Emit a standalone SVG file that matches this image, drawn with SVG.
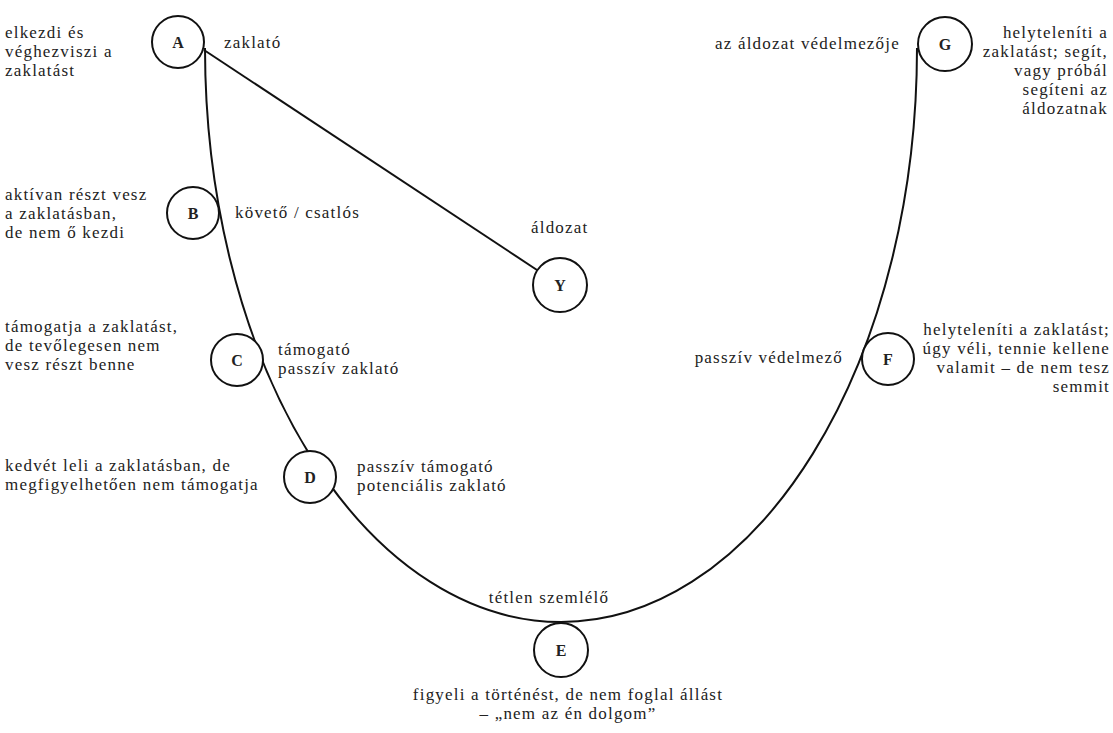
<svg xmlns="http://www.w3.org/2000/svg" width="1113" height="733" viewBox="0 0 1113 733">
<style>
.n circle{fill:#fff;stroke:#111;stroke-width:2}
.n text{font-weight:bold;text-anchor:middle;fill:#222}
.c{fill:none;stroke:#111;stroke-width:2}
.r{text-anchor:end}
.m{text-anchor:middle}
</style>
<rect width="1113" height="733" fill="#fff"/>
<g id="connectors">
<path class="c" d="M205 48 A356 574 0 0 0 917 48"/>
<line class="c" x1="204" y1="50" x2="537" y2="270"/>
</g>
<g font-family="Liberation Serif, serif" font-size="16">
<g id="A" class="n"><circle cx="178" cy="42" r="26"/><text x="178" y="48">A</text></g>
<g id="B" class="n"><circle cx="193" cy="213" r="26"/><text x="193" y="219">B</text></g>
<g id="C" class="n"><circle cx="237" cy="360" r="26"/><text x="237" y="366">C</text></g>
<g id="D" class="n"><circle cx="310" cy="477" r="26"/><text x="310" y="483">D</text></g>
<g id="E" class="n"><circle cx="561" cy="650" r="27"/><text x="561" y="656">E</text></g>
<g id="F" class="n"><circle cx="888" cy="359" r="26"/><text x="888" y="365">F</text></g>
<g id="G" class="n"><circle cx="945" cy="44" r="27"/><text x="945" y="50">G</text></g>
<g id="Y" class="n"><circle cx="560" cy="285" r="27"/><text x="560" y="291">Y</text></g>
</g>
<g id="labels" font-family="Liberation Serif, serif" font-size="17" letter-spacing="1.2" fill="#222">
<text x="5" y="38">elkezdi és</text>
<text x="5" y="57">véghezviszi a</text>
<text x="5" y="76">zaklatást</text>
<text x="224" y="48">zaklató</text>
<text x="5" y="200">aktívan részt vesz</text>
<text x="5" y="219">a zaklatásban,</text>
<text x="5" y="238">de nem ő kezdi</text>
<text x="235" y="218">követő / csatlós</text>
<text x="531" y="233">áldozat</text>
<text x="5" y="332">támogatja a zaklatást,</text>
<text x="5" y="351">de tevőlegesen nem</text>
<text x="5" y="370">vesz részt benne</text>
<text x="278" y="355">támogató</text>
<text x="278" y="374">passzív zaklató</text>
<text x="5" y="471">kedvét leli a zaklatásban, de</text>
<text x="5" y="490">megfigyelhetően nem támogatja</text>
<text x="357" y="472">passzív támogató</text>
<text x="357" y="491">potenciális zaklató</text>
<text class="m" x="549" y="603">tétlen szemlélő</text>
<text class="m" x="568" y="700">figyeli a történést, de nem foglal állást</text>
<text class="m" x="568" y="719">– „nem az én dolgom”</text>
<text class="r" x="843" y="363">passzív védelmező</text>
<text class="r" x="1110" y="335">helyteleníti a zaklatást;</text>
<text class="r" x="1110" y="354">úgy véli, tennie kellene</text>
<text class="r" x="1110" y="373">valamit – de nem tesz</text>
<text class="r" x="1110" y="392">semmit</text>
<text class="r" x="900" y="49">az áldozat védelmezője</text>
<text class="r" x="1108" y="38">helyteleníti a</text>
<text class="r" x="1108" y="57">zaklatást; segít,</text>
<text class="r" x="1108" y="76">vagy próbál</text>
<text class="r" x="1108" y="95">segíteni az</text>
<text class="r" x="1108" y="114">áldozatnak</text>
</g>
</svg>
